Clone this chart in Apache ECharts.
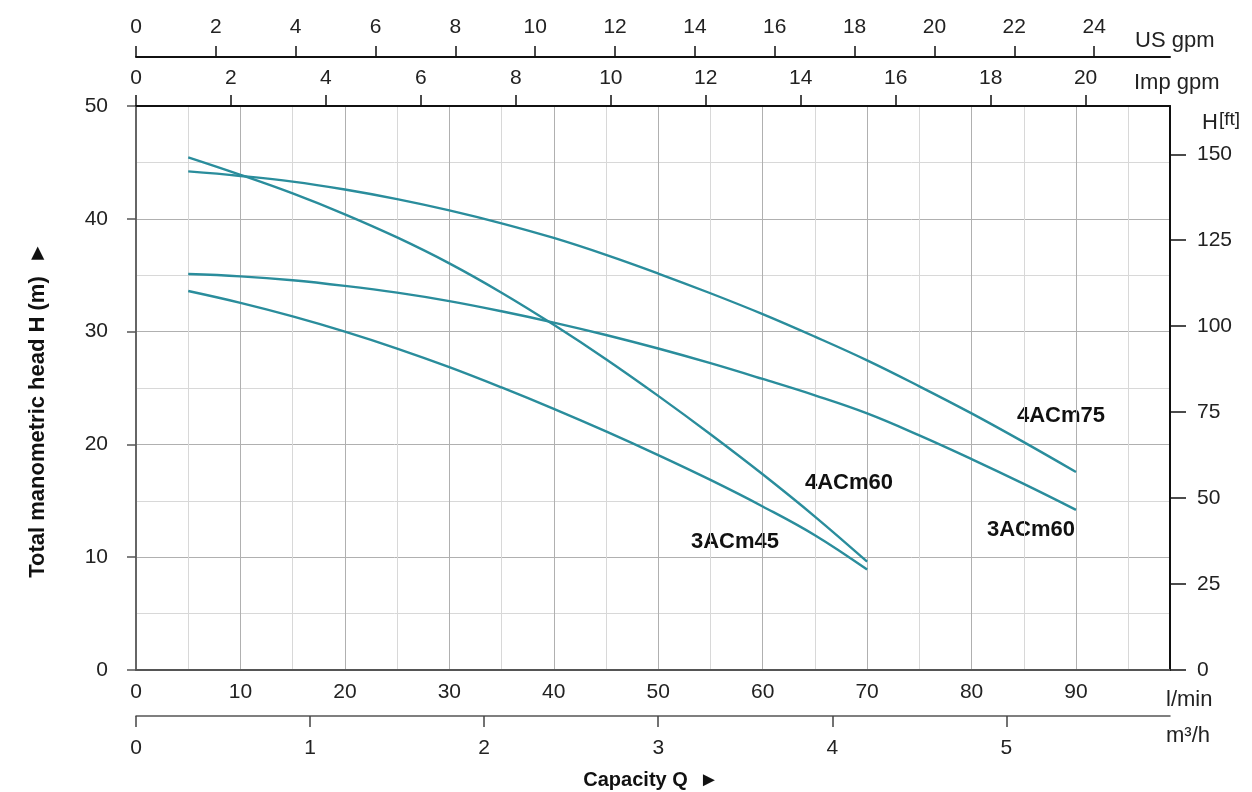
<!DOCTYPE html>
<html>
<head>
<meta charset="utf-8">
<script src="https://cdn.jsdelivr.net/npm/echarts@6/dist/echarts.min.js"></script>
<style>
html,body{margin:0;padding:0;background:#fff;}
#chart{width:1252px;height:792px;}
</style>
</head>
<body>
<div id="chart"></div>
<script>
// Flow (l/min) sample points
const flowLpm = [5,10,15,20,25,30,35,40,45,50,55,60,65,70,75,80,85,90];
// Head (m) per pump model
const head4ACm75 = [44.2,43.8,43.3,42.6,41.75,40.75,39.6,38.3,36.8,35.15,33.4,31.55,29.55,27.45,25.15,22.75,20.2,17.55];
const head4ACm60 = [45.45,43.9,42.25,40.4,38.35,36.05,33.45,30.6,27.55,24.3,20.9,17.35,13.6,9.6];
const head3ACm60 = [35.1,34.9,34.55,34.05,33.45,32.7,31.8,30.8,29.7,28.5,27.2,25.8,24.35,22.75,20.8,18.7,16.5,14.2];
const head3ACm45 = [33.6,32.55,31.35,30.0,28.5,26.85,25.05,23.15,21.15,19.05,16.85,14.5,11.95,8.9];
const modelNames = ['4ACm75','4ACm60','3ACm60','3ACm45'];

// Tick labels
const lpmTicks = [0,10,20,30,40,50,60,70,80,90];
const m3hTicks = [0,1,2,3,4,5];
const impTicks = [0,2,4,6,8,10,12,14,16,18,20];
const usTicks = [0,2,4,6,8,10,12,14,16,18,20,22,24];
const ftTicks = [0,25,50,75,100,125,150];

const LPM_MAX = 99;
const HEAD_MAX = 50;

const FONT = '"Liberation Sans", Arial, sans-serif';
const LINE_COLOR = '#2a8d9c';
const TXT = '#222';
const MAJOR = '#b0b0b0';
const MINOR = '#d8d8d8';

function pairs(ys){ return ys.map((h,i)=>[flowLpm[i],h]); }
const seriesData = [head4ACm75, head4ACm60, head3ACm60, head3ACm45];

const chart = echarts.init(document.getElementById('chart'), null, {renderer:'canvas'});

const lab = (extra) => Object.assign({color:TXT, fontSize:21, fontFamily:FONT}, extra);
const bold = (t, x, y, size) => ({type:'text', x:x, y:y, style:{text:t, fill:'#111', fontSize:size, fontWeight:'bold', fontFamily:FONT, align:'center', verticalAlign:'middle'}});
const unit = (t, x, y) => ({type:'text', x:x, y:y, style:{text:t, fill:TXT, fontSize:22, fontFamily:FONT, align:'left', verticalAlign:'middle'}});

const option = {
  backgroundColor:'#fff',
  animation:false,
  grid:{left:136, right:82, top:106, bottom:122, containLabel:false},
  xAxis:[
    { // l/min
      type:'value', position:'bottom', min:0, max:LPM_MAX, interval:5,
      axisLine:{show:true, onZero:false, lineStyle:{color:'#555', width:2}},
      axisTick:{show:false},
      axisLabel:lab({customValues:lpmTicks, margin:12}),
      splitLine:{show:true, lineStyle:{color:[MAJOR, MINOR], width:1}}
    },
    { // m3/h
      type:'value', position:'bottom', offset:46, min:0, max:LPM_MAX/16.6667,
      axisLine:{show:true, onZero:false, lineStyle:{color:'#555', width:1.5}},
      axisTick:{show:true, customValues:m3hTicks, length:11, lineStyle:{color:'#444', width:1.5}},
      axisLabel:lab({customValues:m3hTicks, margin:22}),
      splitLine:{show:false}
    },
    { // Imp gpm
      type:'value', position:'top', offset:0, min:0, max:LPM_MAX/4.546,
      axisLine:{show:true, onZero:false, lineStyle:{color:'#111', width:2}},
      axisTick:{show:true, customValues:impTicks, length:11, lineStyle:{color:'#111', width:1.5}},
      axisLabel:lab({customValues:impTicks, margin:17}),
      splitLine:{show:false}
    },
    { // US gpm
      type:'value', position:'top', offset:49, min:0, max:25.9,
      axisLine:{show:true, onZero:false, lineStyle:{color:'#111', width:2}},
      axisTick:{show:true, customValues:usTicks, length:11, lineStyle:{color:'#111', width:1.5}},
      axisLabel:lab({customValues:usTicks, margin:19}),
      splitLine:{show:false}
    }
  ],
  yAxis:[
    { // m
      type:'value', position:'left', min:0, max:HEAD_MAX, interval:10,
      axisLine:{show:true, onZero:false, lineStyle:{color:'#666', width:2}},
      axisTick:{show:true, length:9, lineStyle:{color:'#555', width:1.5}},
      axisLabel:lab({margin:28}),
      splitLine:{show:true, lineStyle:{color:MAJOR, width:1}},
      minorTick:{show:false, splitNumber:2},
      minorSplitLine:{show:true, lineStyle:{color:MINOR, width:1}}
    },
    { // ft
      type:'value', position:'right', min:0, max:HEAD_MAX*3.28084,
      axisLine:{show:true, onZero:false, lineStyle:{color:'#111', width:2}},
      axisTick:{show:true, customValues:ftTicks, length:16, lineStyle:{color:'#111', width:1.5}},
      axisLabel:lab({customValues:ftTicks, margin:27}),
      splitLine:{show:false}
    }
  ],
  series: seriesData.map((d,i)=>({
    name:modelNames[i], type:'line', xAxisIndex:0, yAxisIndex:0,
    data:pairs(d), smooth:0.4, showSymbol:false, symbol:'none',
    lineStyle:{color:LINE_COLOR, width:2.4}, z:5
  })),
  graphic:[
    unit('US gpm', 1135, 41),
    unit('Imp gpm', 1134, 83),
    {type:'text', x:1202, y:123, style:{
      text:'{a|H}{b|[ft]}', fill:TXT, fontFamily:FONT, align:'left', verticalAlign:'middle',
      rich:{a:{fontSize:22, fontFamily:FONT, fill:TXT}, b:{fontSize:19, fontFamily:FONT, fill:TXT, verticalAlign:'top', padding:[0,0,6,1]}}
    }},
    unit('l/min', 1166, 700),
    unit('m³/h', 1166, 736),
    bold('Capacity Q  ►', 651, 780, 20),
    Object.assign(bold('Total manometric head H (m)  ►', 38, 410, 22), {rotation:Math.PI/2}),
    bold(modelNames[0], 1061, 416, 22),
    bold(modelNames[1], 849, 483, 22),
    bold(modelNames[2], 1031, 530, 22),
    bold(modelNames[3], 735, 542, 22)
  ]
};
chart.setOption(option);
</script>
</body>
</html>
